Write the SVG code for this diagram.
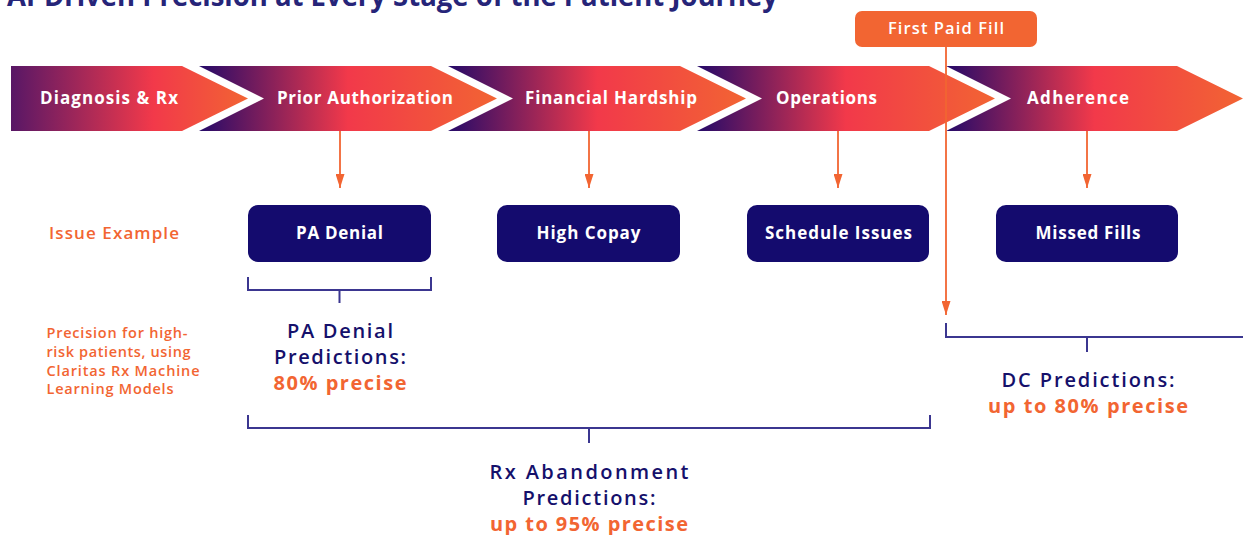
<svg xmlns="http://www.w3.org/2000/svg" width="1243" height="535" viewBox="0 0 1243 535">
<defs>
<style>
text{font-family:"Open Sans","Liberation Sans",sans-serif}
.chev{font-size:17px;font-weight:700;fill:#fff}
.box{fill:#140B6E}
.boxt{font-size:17px;font-weight:700;fill:#fff;text-anchor:middle}
.brk{fill:none;stroke:#3B3690;stroke-width:2}
.con{fill:none;stroke:#F26532;stroke-width:1.8}
.nav{font-size:20px;font-weight:600;fill:#15106B;text-anchor:middle}
.org{font-size:20px;font-weight:700;fill:#F26532;text-anchor:middle}
.side{font-size:14.5px;font-weight:600;fill:#F26532}
.issue{font-size:17px;font-weight:600;fill:#F26532}
</style>
<linearGradient id="g1" x1="0" y1="0" x2="1" y2="0">
<stop offset="0" stop-color="#581766"/>
<stop offset="0.6" stop-color="#F2394A"/>
<stop offset="1" stop-color="#F26433"/>
</linearGradient>
<linearGradient id="g" x1="0" y1="0" x2="1" y2="0">
<stop offset="0" stop-color="#250A69"/>
<stop offset="0.5" stop-color="#F2394A"/>
<stop offset="1" stop-color="#F26433"/>
</linearGradient>
<marker id="ah" viewBox="0 0 14 9" refX="14" refY="4.5" markerWidth="14" markerHeight="9" markerUnits="userSpaceOnUse" orient="auto">
<path d="M0,0 L14,4.5 L0,9 Z" fill="#F26532"/>
</marker>
</defs>

<text x="7" y="5.5" font-size="28" font-weight="700" fill="#262579" textLength="771" lengthAdjust="spacingAndGlyphs">AI-Driven Precision at Every Stage of the Patient Journey</text>

<g id="stage-diagnosis">
<path d="M11,66 H182 L248,98.5 L182,131 H11 Z" fill="url(#g1)"/>
<text class="chev" x="40" y="104" textLength="138" lengthAdjust="spacing">Diagnosis &amp; Rx</text>
</g>
<g id="stage-prior-auth">
<path d="M199,66 H431 L497,98.5 L431,131 H199 L264,98.5 Z" fill="url(#g)"/>
<text class="chev" x="277" y="104" textLength="176" lengthAdjust="spacing">Prior Authorization</text>
</g>
<g id="stage-financial">
<path d="M448,66 H680 L746,98.5 L680,131 H448 L513,98.5 Z" fill="url(#g)"/>
<text class="chev" x="525" y="104" textLength="172" lengthAdjust="spacing">Financial Hardship</text>
</g>
<g id="stage-operations">
<path d="M697,66 H929 L995,98.5 L929,131 H697 L762,98.5 Z" fill="url(#g)"/>
<text class="chev" x="776" y="104" textLength="101" lengthAdjust="spacing">Operations</text>
</g>
<g id="stage-adherence">
<path d="M946,66 H1177 L1243,98.5 L1177,131 H946 L1011,98.5 Z" fill="url(#g)"/>
<text class="chev" x="1027" y="104" textLength="102" lengthAdjust="spacing">Adherence</text>
</g>

<g id="first-paid-fill">
<rect x="855" y="11" width="182" height="36" rx="7" fill="#F26532"/>
<text x="946" y="34" font-size="16.5" font-weight="600" fill="#fff" text-anchor="middle" textLength="116" lengthAdjust="spacing">First Paid Fill</text>
</g>

<g id="label-issue">
<text class="issue" x="49" y="239" textLength="130" lengthAdjust="spacing">Issue Example</text>
</g>
<g id="label-precision">
<text class="side" x="46.5" y="338" textLength="141" lengthAdjust="spacing">Precision for high-</text>
<text class="side" x="46.5" y="357" textLength="144" lengthAdjust="spacing">risk patients, using</text>
<text class="side" x="46.5" y="375.5" textLength="153" lengthAdjust="spacing">Claritas Rx Machine</text>
<text class="side" x="46.5" y="394" textLength="127" lengthAdjust="spacing">Learning Models</text>
</g>

<g id="issue-pa-denial">
<rect class="box" x="248" y="205" width="183" height="57" rx="10"/>
<text class="boxt" x="339.5" y="239" textLength="87" lengthAdjust="spacing">PA Denial</text>
</g>
<g id="issue-high-copay">
<rect class="box" x="497" y="205" width="183" height="57" rx="10"/>
<text class="boxt" x="588.5" y="239" textLength="104" lengthAdjust="spacing">High Copay</text>
</g>
<g id="issue-schedule">
<rect class="box" x="747" y="205" width="182" height="57" rx="10"/>
<text class="boxt" x="838.5" y="239" textLength="147" lengthAdjust="spacing">Schedule Issues</text>
</g>
<g id="issue-missed-fills">
<rect class="box" x="996" y="205" width="182" height="57" rx="10"/>
<text class="boxt" x="1088" y="239" textLength="105" lengthAdjust="spacing">Missed Fills</text>
</g>

<g id="connectors">
<line class="con" x1="340" y1="131" x2="340" y2="188" marker-end="url(#ah)"/>
<line class="con" x1="589" y1="131" x2="589" y2="188" marker-end="url(#ah)"/>
<line class="con" x1="838" y1="131" x2="838" y2="188" marker-end="url(#ah)"/>
<line class="con" x1="1087" y1="131" x2="1087" y2="188" marker-end="url(#ah)"/>
<line class="con" x1="946" y1="47" x2="946" y2="315" marker-end="url(#ah)"/>
<path class="brk" d="M248,277 V290 H431 V277 M339.5,290 V303"/>
<path class="brk" d="M248,415 V428 H930 V415 M589,428 V443"/>
<path class="brk" d="M946,323 V337 H1243 M1087,337 V352"/>
</g>

<g id="pred-pa-denial">
<text class="nav" x="340" y="338" textLength="106" lengthAdjust="spacing">PA Denial</text>
<text class="nav" x="340" y="364" textLength="132" lengthAdjust="spacing">Predictions:</text>
<text class="org" x="340" y="390" textLength="133" lengthAdjust="spacing">80% precise</text>
</g>
<g id="pred-rx-abandonment">
<text class="nav" x="589" y="479" textLength="199" lengthAdjust="spacing">Rx Abandonment</text>
<text class="nav" x="589" y="505" textLength="133" lengthAdjust="spacing">Predictions:</text>
<text class="org" x="589" y="531" textLength="198" lengthAdjust="spacing">up to 95% precise</text>
</g>
<g id="pred-dc">
<text class="nav" x="1088" y="387" textLength="173" lengthAdjust="spacing">DC Predictions:</text>
<text class="org" x="1088" y="413" textLength="200" lengthAdjust="spacing">up to 80% precise</text>
</g>
</svg>
